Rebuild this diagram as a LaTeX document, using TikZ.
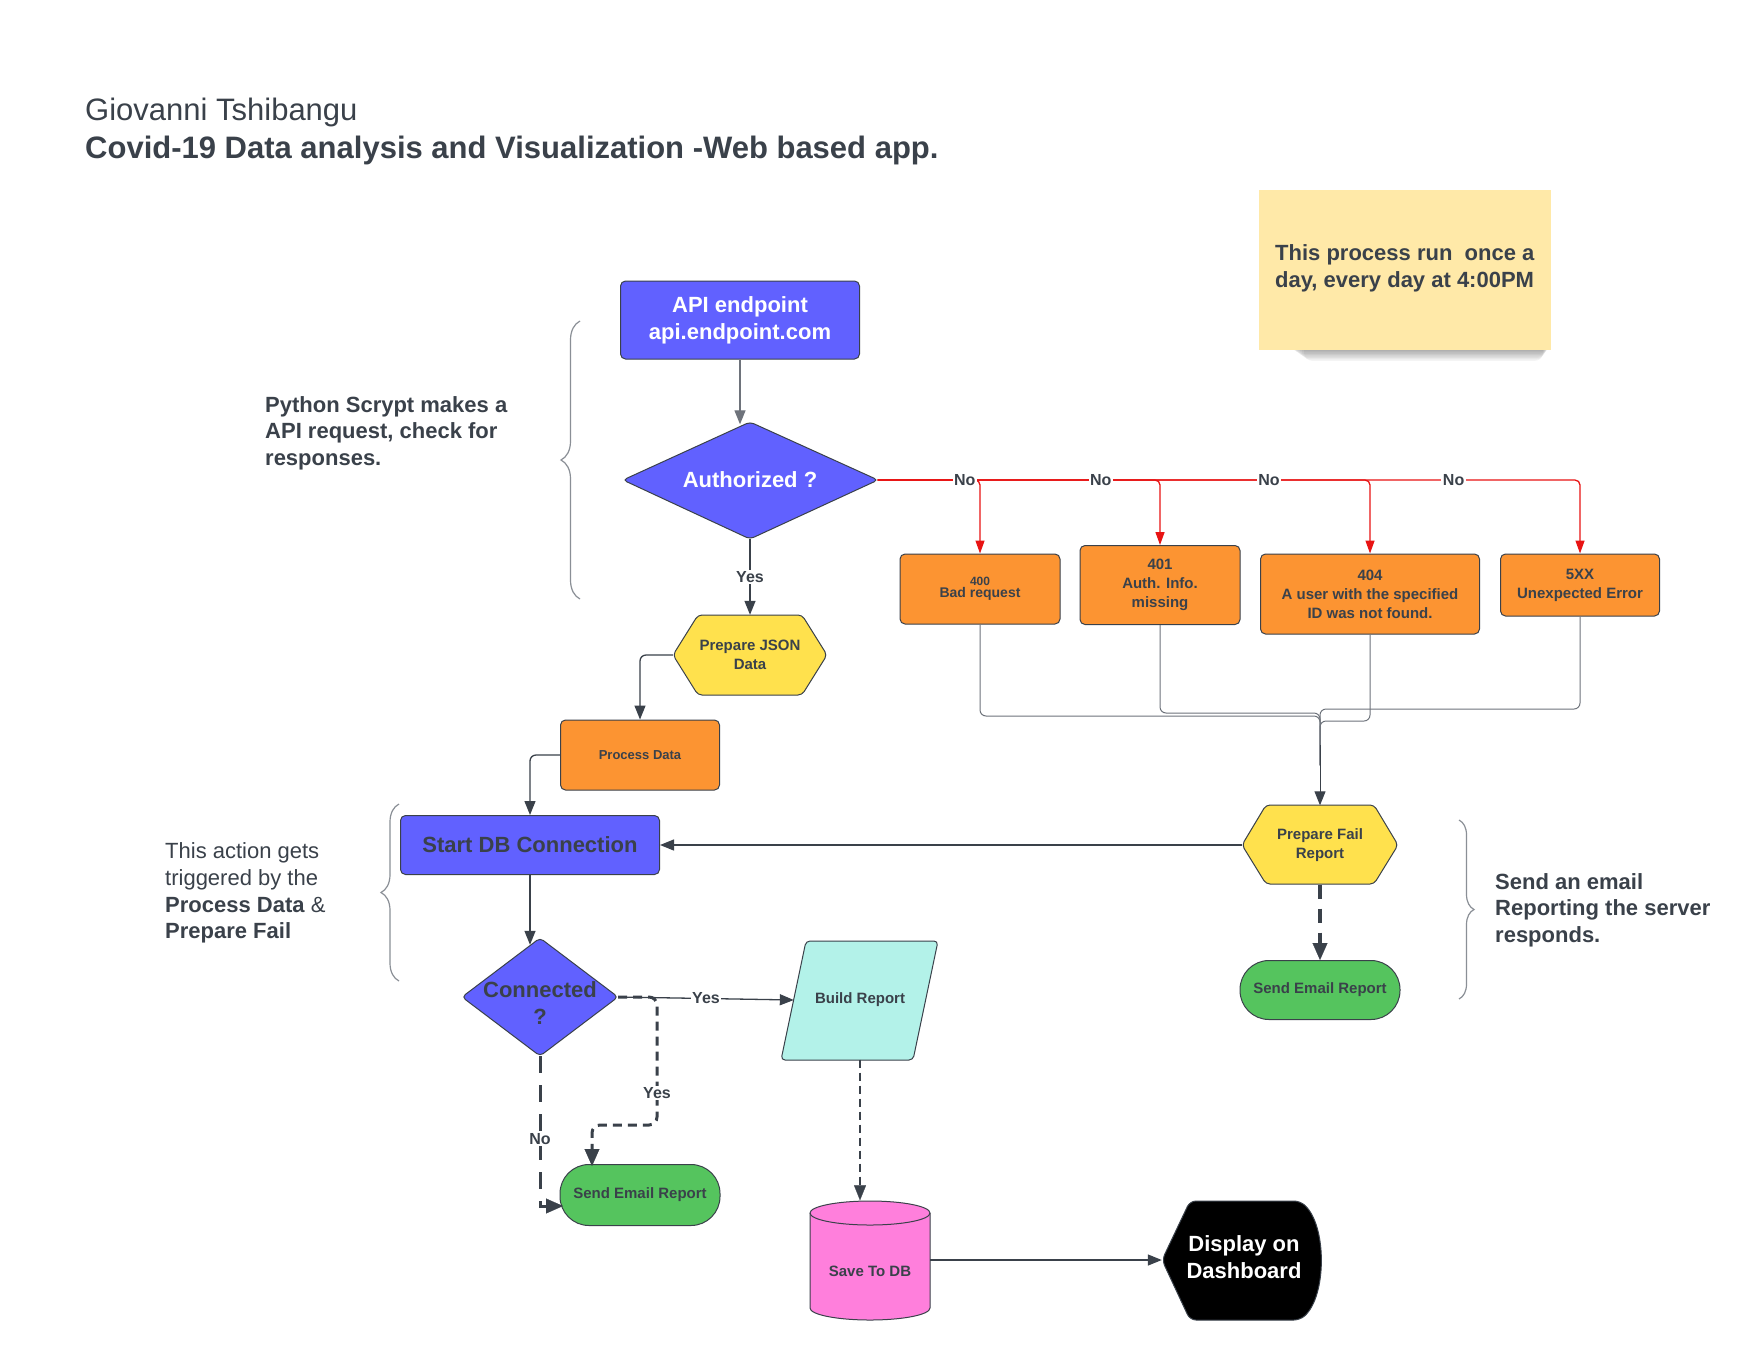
\documentclass[tikz,border=0pt]{standalone}
\usepackage{fontspec}
\setmainfont{Liberation Sans}
\usetikzlibrary{arrows.meta,decorations.pathreplacing,calc}
\definecolor{dk}{HTML}{3A414A}
\definecolor{purp}{HTML}{6161FF}
\definecolor{orng}{HTML}{FC9432}
\definecolor{ylw}{HTML}{FFE14D}
\definecolor{grn}{HTML}{55C45E}
\definecolor{cyn}{HTML}{B3F2E9}
\definecolor{pnk}{HTML}{FF7FDC}
\definecolor{stk}{HTML}{FFE9A8}
\definecolor{rd}{HTML}{E81313}
\definecolor{gln}{HTML}{6E737B}
\definecolor{brc}{HTML}{8A8F96}
\newcommand{\fsz}[2]{\fontsize{#1}{#2}\selectfont}
\begin{document}
\begin{tikzpicture}[x=1pt,y=-1pt,
  box/.style={draw=dk, line width=1, rounded corners=5, align=center, text=dk, inner sep=2},
  shp/.style={draw=dk, line width=1, rounded corners=4},
  ghost/.style={inner sep=0, draw=none},
  txt/.style={text=dk, align=center, inner sep=0},
  arr/.style={draw=dk, line width=1.3, -{Triangle[length=14pt,width=11pt]}},
  redarr/.style={draw=rd, line width=1.3, rounded corners=5, -{Triangle[length=13pt,width=9pt]}},
  gline/.style={draw=gln, line width=1, rounded corners=6},
  garr/.style={gline, -{Triangle[length=14pt,width=11pt]}, draw=dk},
  dsh/.style={draw=dk, line width=3, dash pattern=on 9pt off 6pt, rounded corners=8, -{Triangle[length=17pt,width=15pt,line width=0.2pt]}},
  lbl/.style={fill=white, inner sep=1.5, font=\bfseries\fsz{16}{19}, text=dk},
  bracestyle/.style={draw=brc, line width=1.2, decorate, decoration={brace, amplitude=#1, aspect=0.5}},
]
\fill[white] (0,0) rectangle (1760,1360);
\useasboundingbox (0,0) rectangle (1760,1360);

% ---------- titles ----------
\node[anchor=base west, text=dk, inner sep=0, font=\fsz{31}{37}] (t1) at (85,120) {Giovanni Tshibangu};
\node[anchor=base west, text=dk, inner sep=0, font=\bfseries\fsz{31}{37}] (t2) at (85,158) {Covid-19 Data analysis and Visualization -Web based app.};

% ---------- sticky note ----------
\foreach \k in {0,...,7}
  \fill[black, opacity=0.045, rounded corners=8] (1290+2*\k,338) rectangle (1550-\k,351+1.4*\k);
\node[fill=stk, minimum width=292, minimum height=160, anchor=north west, inner sep=0] (note) at (1259,190) {};
\node[anchor=west, align=left, text=dk, inner sep=0, font=\bfseries\fsz{22}{27}] (notetxt) at (1275,268) {This process run\ \ once a\\day, every day at 4:00PM};

% ---------- side texts ----------
\node[anchor=west, align=left, text=dk, inner sep=0, font=\bfseries\fsz{22}{26.5}] (py) at (265,433) {Python Scrypt makes a\\API request, check for\\responses.};
\node[anchor=west, align=left, text=dk, inner sep=0, font=\fsz{22}{26.7}] (act) at (165,893) {This action gets\\triggered by the\\\textbf{Process Data} \&\\\textbf{Prepare Fail}};
\node[anchor=west, align=left, text=dk, inner sep=0, font=\bfseries\fsz{22}{26.5}] (send) at (1495,910) {Send an email\\Reporting the server\\responds.};

% ---------- braces ----------
\draw[bracestyle=19pt] (580,599) -- (580,321);
\draw[bracestyle=18pt] (399,981) -- (399,804);
\draw[bracestyle=15pt] (1459,820) -- (1459,999);

% ---------- custom shapes ----------
\draw[shp, fill=purp] (623,480) -- (750,422) -- (878,480) -- (750,539) -- cycle;
\draw[shp, fill=ylw] (673,655) -- (698,615) -- (802,615) -- (827,655) -- (802,695) -- (698,695) -- cycle;
\draw[shp, fill=purp] (462,997) -- (540,938) -- (618,997) -- (540,1056) -- cycle;
\draw[shp, fill=cyn] (781,1060) -- (806,941) -- (938,941) -- (913,1060) -- cycle;
\draw[shp, fill=ylw] (1242,845) -- (1266,805) -- (1374,805) -- (1398,845) -- (1374,884) -- (1266,884) -- cycle;
% cylinder
\draw[draw=dk, line width=1, fill=pnk] (810,1213) -- (810,1308) arc[start angle=180, end angle=0, x radius=60, y radius=12]
  -- (930,1213) arc[start angle=0, end angle=-180, x radius=60, y radius=12] -- cycle;
\draw[draw=dk, line width=1] (810,1213) arc[start angle=180, end angle=0, x radius=60, y radius=12];
% display
\draw[draw=dk, line width=1, fill=black, rounded corners=6] (1162,1260) -- (1190,1201) -- (1300,1201)
  .. controls (1327,1225) and (1327,1296) .. (1300,1320) -- (1190,1320) -- cycle;

% ---------- nodes ----------
\node[box, fill=purp, text=white, font=\bfseries\fsz{22}{27}, minimum width=239, minimum height=78] (api) at (740,320) {API endpoint\\api.endpoint.com};
\node[ghost, text=white, font=\bfseries\fsz{22}{27}, minimum width=255, minimum height=117] (auth) at (750,480) {Authorized ?};
\node[ghost, txt, font=\bfseries\fsz{15}{19}, minimum width=154, minimum height=80] (pj) at (750,655) {Prepare JSON\\Data};
\node[box, fill=orng, font=\bfseries\fsz{13}{16}, minimum width=159, minimum height=70] (proc) at (640,755) {Process Data};
\node[box, fill=purp, font=\bfseries\fsz{22}{27}, minimum width=259, minimum height=59] (sdb) at (530,845) {Start DB Connection};
\node[ghost, minimum width=156, minimum height=118] (conn) at (540,997) {};
\node[txt, font=\bfseries\fsz{22}{27}] (conntxt) at (540,1003) {Connected\\?};
\node[ghost, txt, font=\bfseries\fsz{15}{19}, minimum width=132, minimum height=119] (build) at (860,1000) {Build Report};
\node[box, fill=grn, rounded corners=29, font=\bfseries\fsz{15}{19}, minimum width=160, minimum height=61] (em1) at (640,1195) {Send Email Report};
\node[ghost, minimum width=120, minimum height=119] (save) at (870,1260) {};
\node[txt, font=\bfseries\fsz{15}{19}] (savetxt) at (870,1271) {Save To DB};
\node[ghost, minimum width=158, minimum height=119] (disp) at (1241,1260) {};
\node[txt, text=white, font=\bfseries\fsz{22}{27}] (disptxt) at (1244,1257) {Display on\\Dashboard};

\node[box, fill=orng, font=\bfseries, minimum width=160, minimum height=70] (e400) at (980,589) {\fsz{12}{17}400\\\fsz{14}{17}Bad request};
\node[box, fill=orng, font=\bfseries\fsz{15}{19}, minimum width=160, minimum height=79] (e401) at (1160,585) {401\\Auth. Info.\\missing};
\node[box, fill=orng, font=\bfseries\fsz{15}{19}, minimum width=219, minimum height=80] (e404) at (1370,594) {404\\A user with the specified\\ID was not found.};
\node[box, fill=orng, font=\bfseries\fsz{15}{19}, minimum width=159, minimum height=62] (e5xx) at (1580,585) {5XX\\Unexpected Error};
\node[ghost, txt, font=\bfseries\fsz{15}{19}, minimum width=156, minimum height=79] (pf) at (1320,845) {Prepare Fail\\Report};
\node[box, fill=grn, rounded corners=29, font=\bfseries\fsz{15}{19}, minimum width=160, minimum height=59] (em2) at (1320,990) {Send Email Report};

% ---------- connectors ----------
\draw[arr, draw=gln] (api.south) -- ($(api.south |- auth.north)+(0,3)$);
\draw[arr] (auth.south) -- node[lbl]{Yes} (pj.north);
\draw[arr, rounded corners=6] (pj.west) -| (proc.north);
\draw[arr, rounded corners=6] (proc.west) -| (sdb.north);
\draw[arr] (sdb.south) -- ($(sdb.south |- conn.north)+(0,7)$);
\draw[arr] (pf.west) -- (sdb.east);

% red error branches
\draw[redarr] (auth.east) -- (e400.north |- auth.east) -- (e400.north);
\draw[redarr] (auth.east) -- (e401.north |- auth.east) -- (e401.north);
\draw[redarr] (auth.east) -- (e404.north |- auth.east) -- (e404.north);
\draw[redarr] (auth.east) -- (e5xx.north |- auth.east) -- (e5xx.north);
\path (auth.east) -- node[lbl, pos=0.85]{No} (e400.north |- auth.east);
\path (auth.east) -- node[lbl, pos=0.79]{No} (e401.north |- auth.east);
\path (auth.east) -- node[lbl, pos=0.795]{No} (e404.north |- auth.east);
\path (auth.east) -- node[lbl, pos=0.82]{No} (e5xx.north |- auth.east);

% grey merge lines
\draw[gline] (e400.south) -- (e400.south |- 0,716) -- (pf.north |- 0,716) -- ($(pf.north)+(0,-40)$);
\draw[gline] (e401.south) -- (e401.south |- 0,713) -- (pf.north |- 0,713) -- ($(pf.north)+(0,-40)$);
\draw[gline] (e404.south) -- (e404.south |- 0,721) -- (pf.north |- 0,721) -- ($(pf.north)+(0,-40)$);
\draw[gline] (e5xx.south) -- (e5xx.south |- 0,709) -- (pf.north |- 0,709) -- ($(pf.north)+(0,-40)$);
\draw[garr] ($(pf.north)+(0,-60)$) -- (pf.north);

% dashed connectors
\draw[dsh, line width=4, dash pattern=on 14pt off 10pt] (pf.south) -- (em2.north);
\draw[dsh, line width=2.6, dash pattern=on 8pt off 5pt, -{Triangle[length=15pt,width=12pt,line width=0.2pt]}] (build.south) -- (build.south |- save.north);
\draw[dsh] (conn.east) -- (657,997) -- (657,1125) -- (592,1125) -- (592,1166);
\draw[dsh, dash pattern=on 17pt off 12pt, rounded corners=0] (conn.south) -- (540,1206) -- (563,1206);
\path (657,997) -- node[lbl, pos=0.75]{Yes} (657,1125);
\path (conn.south) -- node[lbl, pos=0.55]{No} (540,1206);

\draw[arr] (conn.east) -- node[lbl]{Yes} (build.west);
\draw[arr] (save.east) -- (disp.west);
\end{tikzpicture}
\end{document}
